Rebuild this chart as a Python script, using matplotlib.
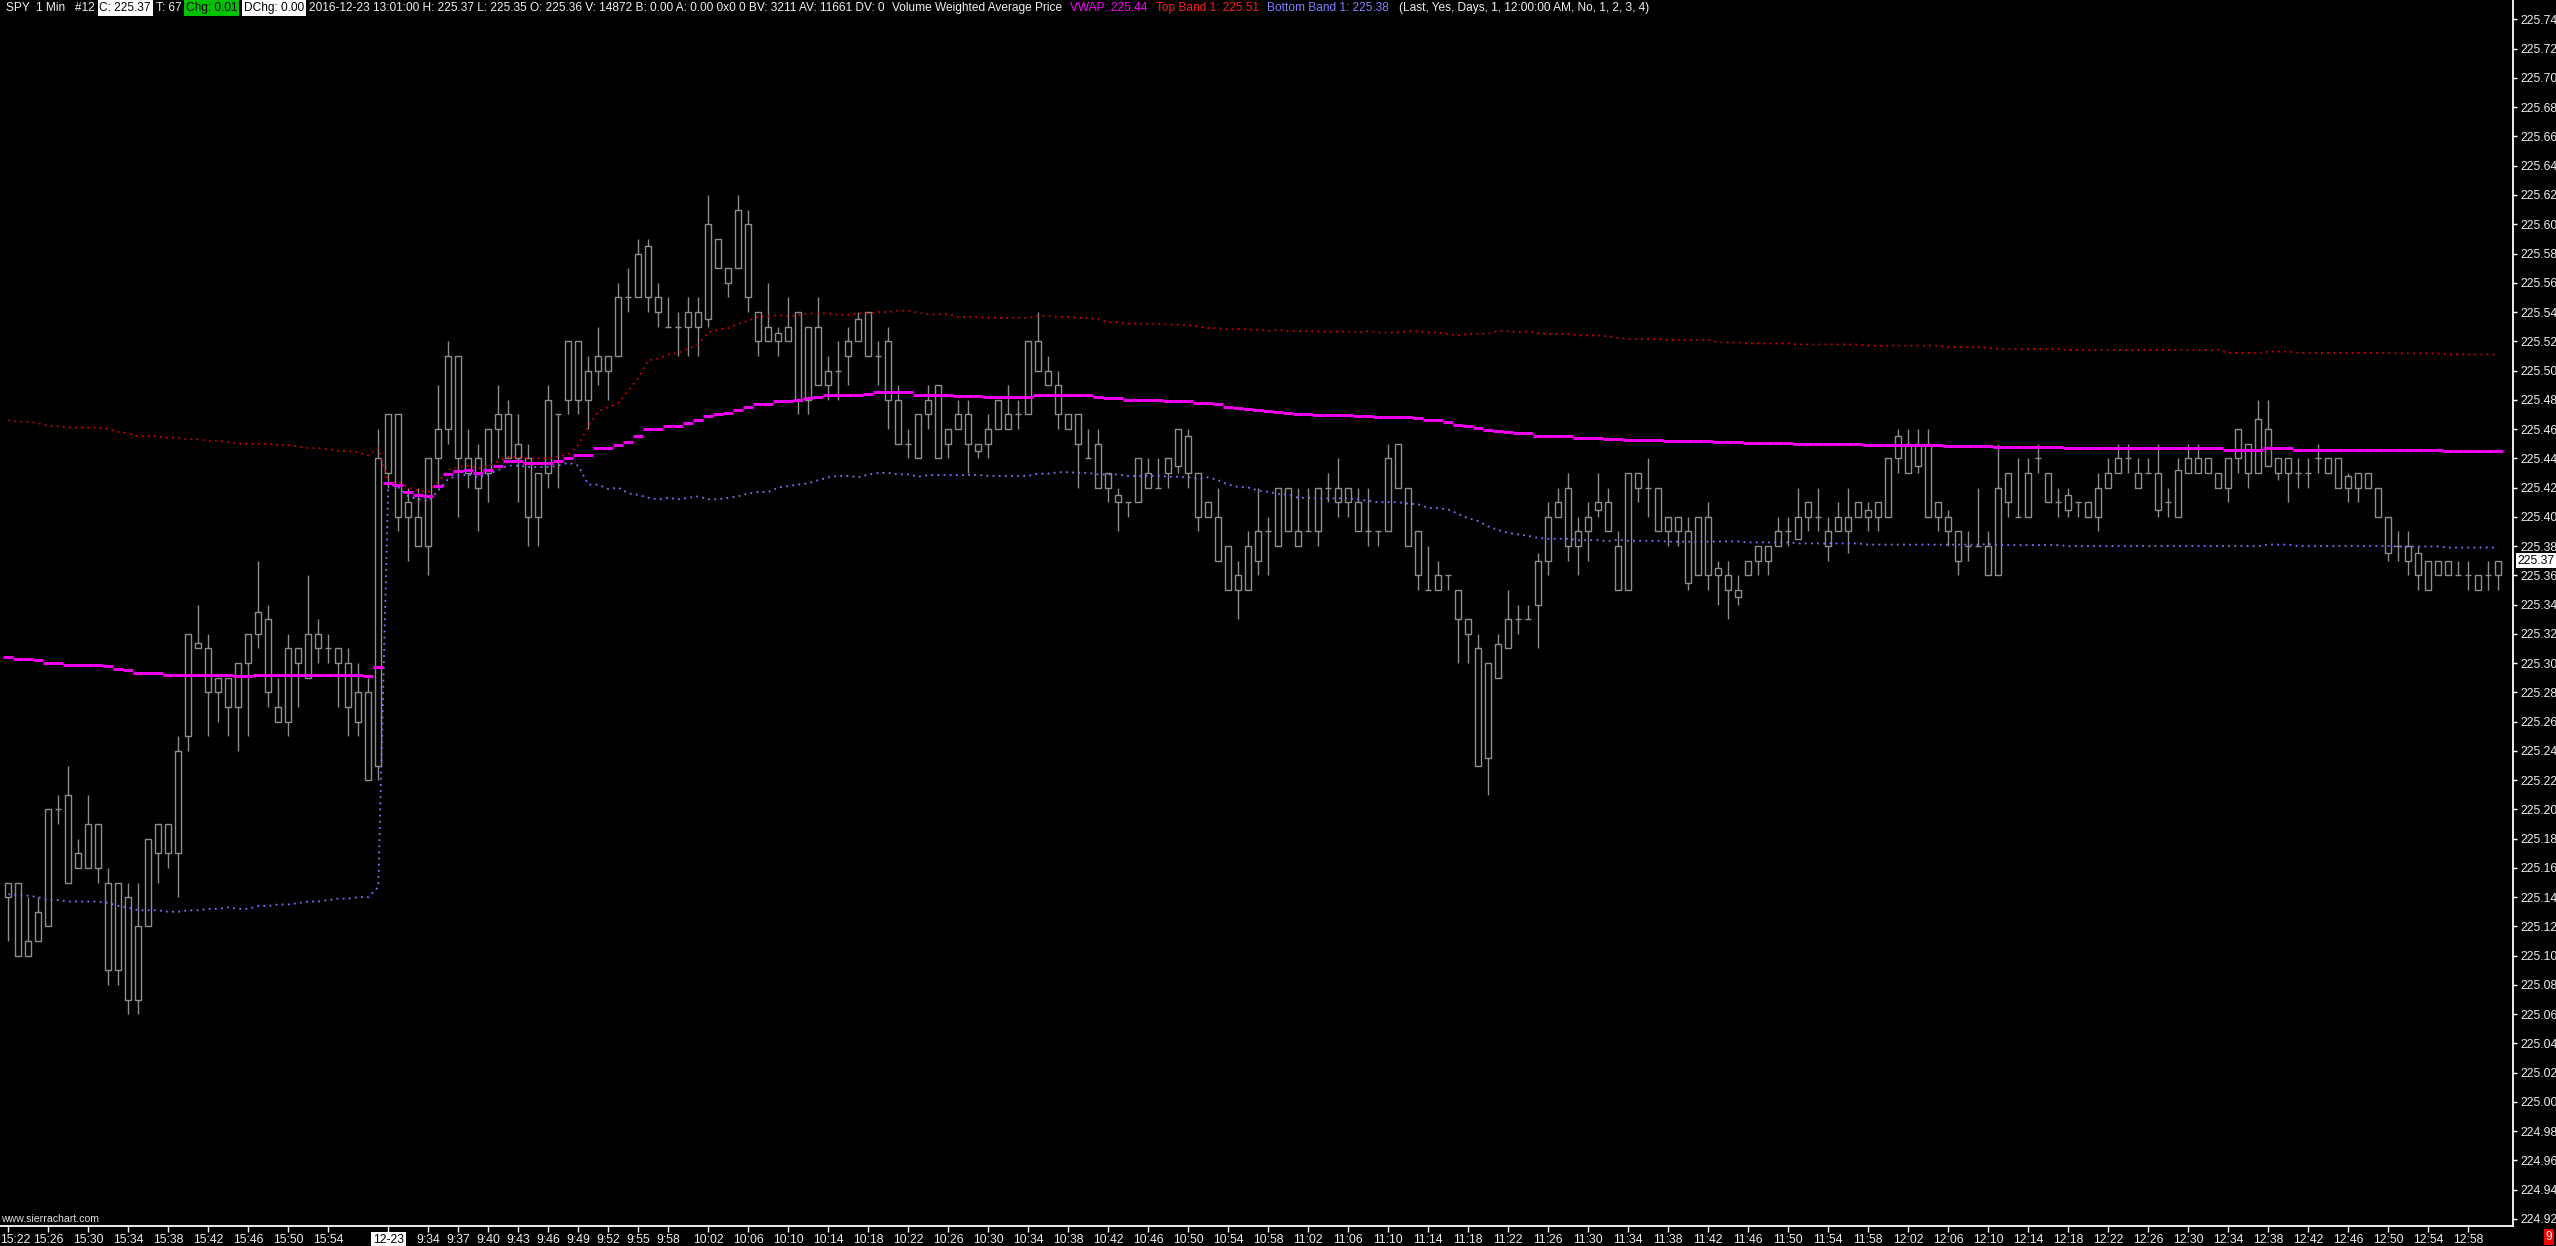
import matplotlib
matplotlib.use('Agg')
import matplotlib.pyplot as plt
import matplotlib.font_manager as fm
import matplotlib.transforms as mtransforms
import numpy as np

# SPY 1 Min. bars 0-37: 2016-12-22 15:22-15:59, bars 38-249: 2016-12-23 9:30-13:01
session_start = 38

opens = [
    225.14, 225.15, 225.10, 225.11, 225.12, 225.20, 225.21, 225.16, 225.16, 225.19,
    225.15, 225.09, 225.14, 225.07, 225.12, 225.17, 225.19, 225.17, 225.25, 225.31,
    225.31, 225.28, 225.29, 225.27, 225.30, 225.32, 225.33, 225.27, 225.26, 225.31,
    225.29, 225.32, 225.31, 225.31, 225.30, 225.28, 225.28, 225.23,
    225.43, 225.47, 225.40, 225.40, 225.38, 225.44, 225.46, 225.51, 225.44, 225.42,
    225.43, 225.46, 225.47, 225.45, 225.44, 225.40, 225.43, 225.47, 225.48, 225.52,
    225.48, 225.50, 225.51, 225.51, 225.55, 225.55, 225.585, 225.55, 225.53, 225.53,
    225.53, 225.54, 225.535, 225.59, 225.57, 225.57, 225.60, 225.54, 225.52, 225.52,
    225.53, 225.54, 225.48, 225.53, 225.49, 225.50, 225.51, 225.52, 225.54, 225.51,
    225.52, 225.48, 225.45, 225.44, 225.47, 225.49, 225.45, 225.46, 225.47, 225.445,
    225.45, 225.46, 225.47, 225.47, 225.47, 225.52, 225.50, 225.49, 225.47, 225.47,
    225.44, 225.45, 225.42, 225.415, 225.41, 225.41, 225.43, 225.42, 225.43, 225.435,
    225.455, 225.43, 225.40, 225.40, 225.38, 225.35, 225.35, 225.37, 225.39, 225.38,
    225.42, 225.39, 225.39, 225.39, 225.42, 225.41, 225.42, 225.41, 225.39, 225.39,
    225.39, 225.45, 225.42, 225.39, 225.35, 225.35, 225.36, 225.35, 225.33, 225.31,
    225.235, 225.29, 225.31, 225.33, 225.33, 225.34, 225.37, 225.40, 225.42, 225.38,
    225.39, 225.405, 225.41, 225.38, 225.35, 225.43, 225.42, 225.42, 225.39, 225.40,
    225.39, 225.36, 225.40, 225.365, 225.36, 225.35, 225.36, 225.37, 225.38, 225.38,
    225.39, 225.385, 225.40, 225.40, 225.39, 225.39, 225.40, 225.40, 225.40, 225.41,
    225.40, 225.44, 225.45, 225.435, 225.45, 225.40, 225.40, 225.39, 225.38, 225.38,
    225.38, 225.36, 225.41, 225.40, 225.40, 225.44, 225.43, 225.41, 225.415, 225.41,
    225.41, 225.40, 225.42, 225.43, 225.44, 225.43, 225.43, 225.43, 225.41, 225.40,
    225.43, 225.44, 225.43, 225.43, 225.42, 225.44, 225.45, 225.43, 225.46, 225.44,
    225.43, 225.43, 225.43, 225.44, 225.44, 225.44, 225.42, 225.43, 225.42, 225.42,
    225.40, 225.38, 225.38, 225.375, 225.37, 225.36, 225.37, 225.36, 225.36, 225.36,
    225.36, 225.36,
]
highs = [
    225.15, 225.15, 225.14, 225.14, 225.20, 225.21, 225.23, 225.18, 225.21, 225.19,
    225.16, 225.15, 225.15, 225.15, 225.18, 225.19, 225.19, 225.25, 225.32, 225.34,
    225.32, 225.29, 225.29, 225.30, 225.32, 225.37, 225.34, 225.29, 225.32, 225.31,
    225.36, 225.33, 225.32, 225.31, 225.31, 225.30, 225.29, 225.46,
    225.47, 225.47, 225.42, 225.42, 225.44, 225.49, 225.52, 225.51, 225.46, 225.45,
    225.46, 225.49, 225.48, 225.47, 225.45, 225.43, 225.49, 225.47, 225.52, 225.52,
    225.51, 225.53, 225.51, 225.56, 225.57, 225.59, 225.59, 225.56, 225.55, 225.54,
    225.55, 225.55, 225.62, 225.59, 225.57, 225.62, 225.61, 225.54, 225.56, 225.53,
    225.55, 225.54, 225.53, 225.55, 225.51, 225.52, 225.53, 225.54, 225.54, 225.52,
    225.53, 225.49, 225.46, 225.47, 225.49, 225.49, 225.46, 225.48, 225.48, 225.45,
    225.47, 225.48, 225.49, 225.48, 225.52, 225.54, 225.51, 225.50, 225.47, 225.47,
    225.46, 225.46, 225.43, 225.42, 225.41, 225.44, 225.44, 225.44, 225.44, 225.46,
    225.46, 225.43, 225.41, 225.42, 225.38, 225.37, 225.39, 225.42, 225.40, 225.42,
    225.42, 225.42, 225.42, 225.42, 225.43, 225.44, 225.42, 225.42, 225.42, 225.39,
    225.45, 225.45, 225.42, 225.39, 225.38, 225.37, 225.36, 225.35, 225.33, 225.32,
    225.30, 225.32, 225.35, 225.34, 225.34, 225.375, 225.41, 225.42, 225.43, 225.40,
    225.41, 225.43, 225.42, 225.39, 225.43, 225.43, 225.44, 225.42, 225.40, 225.40,
    225.40, 225.40, 225.41, 225.37, 225.37, 225.36, 225.37, 225.38, 225.38, 225.40,
    225.40, 225.42, 225.41, 225.42, 225.40, 225.41, 225.42, 225.41, 225.41, 225.41,
    225.44, 225.46, 225.46, 225.46, 225.46, 225.41, 225.405, 225.39, 225.39, 225.42,
    225.39, 225.45, 225.43, 225.44, 225.44, 225.45, 225.43, 225.42, 225.42, 225.41,
    225.41, 225.43, 225.44, 225.45, 225.45, 225.44, 225.44, 225.45, 225.42, 225.44,
    225.45, 225.45, 225.44, 225.43, 225.44, 225.46, 225.45, 225.48, 225.48, 225.44,
    225.44, 225.44, 225.44, 225.45, 225.44, 225.44, 225.43, 225.43, 225.43, 225.42,
    225.40, 225.39, 225.39, 225.38, 225.37, 225.37, 225.37, 225.37, 225.37, 225.36,
    225.37, 225.37,
]
lows = [
    225.11, 225.10, 225.10, 225.11, 225.12, 225.19, 225.15, 225.16, 225.16, 225.15,
    225.08, 225.08, 225.06, 225.06, 225.12, 225.15, 225.16, 225.14, 225.24, 225.31,
    225.25, 225.26, 225.25, 225.24, 225.25, 225.31, 225.27, 225.26, 225.25, 225.27,
    225.29, 225.30, 225.30, 225.27, 225.25, 225.25, 225.22, 225.22,
    225.42, 225.39, 225.37, 225.38, 225.36, 225.42, 225.45, 225.40, 225.42, 225.39,
    225.41, 225.44, 225.44, 225.41, 225.38, 225.38, 225.42, 225.42, 225.47, 225.47,
    225.46, 225.49, 225.48, 225.51, 225.54, 225.55, 225.54, 225.53, 225.53, 225.51,
    225.51, 225.51, 225.53, 225.57, 225.55, 225.57, 225.54, 225.51, 225.52, 225.51,
    225.52, 225.47, 225.47, 225.49, 225.48, 225.48, 225.49, 225.52, 225.51, 225.49,
    225.46, 225.45, 225.44, 225.44, 225.46, 225.44, 225.44, 225.46, 225.43, 225.44,
    225.44, 225.46, 225.46, 225.46, 225.47, 225.50, 225.49, 225.46, 225.46, 225.42,
    225.44, 225.42, 225.41, 225.39, 225.40, 225.41, 225.42, 225.42, 225.42, 225.43,
    225.42, 225.39, 225.40, 225.37, 225.35, 225.33, 225.35, 225.36, 225.36, 225.38,
    225.39, 225.38, 225.39, 225.38, 225.41, 225.40, 225.40, 225.39, 225.38, 225.38,
    225.39, 225.42, 225.38, 225.35, 225.35, 225.35, 225.35, 225.30, 225.30, 225.23,
    225.21, 225.29, 225.31, 225.32, 225.33, 225.31, 225.36, 225.40, 225.37, 225.36,
    225.37, 225.40, 225.39, 225.35, 225.35, 225.41, 225.40, 225.39, 225.38, 225.38,
    225.35, 225.36, 225.35, 225.34, 225.33, 225.34, 225.36, 225.36, 225.36, 225.38,
    225.38, 225.385, 225.39, 225.39, 225.37, 225.39, 225.375, 225.40, 225.39, 225.39,
    225.40, 225.43, 225.43, 225.43, 225.40, 225.39, 225.38, 225.36, 225.37, 225.38,
    225.36, 225.36, 225.40, 225.40, 225.40, 225.43, 225.41, 225.40, 225.40, 225.40,
    225.40, 225.39, 225.42, 225.43, 225.43, 225.42, 225.43, 225.40, 225.40, 225.40,
    225.43, 225.43, 225.43, 225.42, 225.41, 225.43, 225.42, 225.43, 225.435, 225.425,
    225.41, 225.42, 225.42, 225.43, 225.43, 225.42, 225.41, 225.41, 225.42, 225.40,
    225.37, 225.37, 225.36, 225.35, 225.35, 225.36, 225.36, 225.36, 225.35, 225.35,
    225.35, 225.35,
]
closes = [
    225.15, 225.10, 225.11, 225.13, 225.20, 225.20, 225.15, 225.17, 225.19, 225.16,
    225.09, 225.15, 225.07, 225.12, 225.18, 225.19, 225.17, 225.24, 225.32, 225.314,
    225.28, 225.29, 225.27, 225.30, 225.32, 225.335, 225.28, 225.26, 225.31, 225.30,
    225.32, 225.31, 225.31, 225.30, 225.27, 225.26, 225.22, 225.44,
    225.47, 225.40, 225.41, 225.38, 225.44, 225.46, 225.51, 225.44, 225.43, 225.44,
    225.46, 225.47, 225.44, 225.44, 225.40, 225.43, 225.48, 225.47, 225.52, 225.48,
    225.50, 225.51, 225.50, 225.55, 225.55, 225.58, 225.55, 225.54, 225.53, 225.53,
    225.54, 225.53, 225.60, 225.57, 225.56, 225.61, 225.55, 225.52, 225.53, 225.526,
    225.52, 225.48, 225.53, 225.49, 225.50, 225.50, 225.52, 225.535, 225.51, 225.51,
    225.48, 225.45, 225.45, 225.47, 225.48, 225.44, 225.46, 225.47, 225.45, 225.45,
    225.46, 225.48, 225.46, 225.47, 225.52, 225.50, 225.49, 225.47, 225.46, 225.45,
    225.44, 225.42, 225.43, 225.41, 225.41, 225.44, 225.42, 225.42, 225.44, 225.46,
    225.43, 225.40, 225.41, 225.37, 225.35, 225.36, 225.38, 225.39, 225.39, 225.42,
    225.39, 225.38, 225.39, 225.42, 225.42, 225.42, 225.41, 225.39, 225.39, 225.39,
    225.44, 225.42, 225.38, 225.36, 225.35, 225.36, 225.36, 225.33, 225.32, 225.23,
    225.30, 225.313, 225.33, 225.33, 225.33, 225.37, 225.40, 225.41, 225.38, 225.39,
    225.40, 225.41, 225.39, 225.35, 225.43, 225.42, 225.42, 225.39, 225.40, 225.39,
    225.355, 225.40, 225.36, 225.36, 225.35, 225.345, 225.37, 225.38, 225.37, 225.39,
    225.39, 225.40, 225.41, 225.40, 225.38, 225.40, 225.39, 225.41, 225.405, 225.40,
    225.44, 225.455, 225.43, 225.45, 225.40, 225.41, 225.39, 225.37, 225.38, 225.38,
    225.36, 225.42, 225.43, 225.40, 225.43, 225.44, 225.41, 225.41, 225.405, 225.41,
    225.40, 225.42, 225.43, 225.44, 225.44, 225.42, 225.43, 225.405, 225.41, 225.432,
    225.44, 225.43, 225.44, 225.42, 225.44, 225.46, 225.43, 225.467, 225.435, 225.43,
    225.44, 225.43, 225.43, 225.44, 225.43, 225.42, 225.428, 225.42, 225.43, 225.40,
    225.375, 225.38, 225.37, 225.36, 225.35, 225.37, 225.36, 225.36, 225.36, 225.35,
    225.36, 225.37,
]

# volume weighted average price (resets each day) and band distance (band 1)
vwap = [
    225.304, 225.303, 225.303, 225.302, 225.300, 225.300, 225.299, 225.299, 225.299, 225.299,
    225.298, 225.296, 225.295, 225.293, 225.293, 225.293, 225.292, 225.292, 225.292, 225.292,
    225.292, 225.292, 225.292, 225.291, 225.291, 225.292, 225.292, 225.292, 225.292, 225.292,
    225.292, 225.292, 225.292, 225.292, 225.292, 225.292, 225.291, 225.297,
    225.423, 225.422, 225.417, 225.415, 225.414, 225.421, 225.429, 225.431, 225.432, 225.430,
    225.432, 225.435, 225.438, 225.438, 225.437, 225.437, 225.437, 225.438, 225.440, 225.442,
    225.442, 225.447, 225.447, 225.449, 225.451, 225.455, 225.460, 225.460, 225.462, 225.462,
    225.464, 225.466, 225.469, 225.470, 225.471, 225.473, 225.475, 225.477, 225.477, 225.479,
    225.479, 225.480, 225.481, 225.482, 225.483, 225.483, 225.483, 225.483, 225.484, 225.485,
    225.485, 225.485, 225.485, 225.4835, 225.4835, 225.4835, 225.4835, 225.4826, 225.4826, 225.4826,
    225.482, 225.482, 225.482, 225.482, 225.482, 225.4835, 225.4835, 225.4835, 225.4835, 225.483,
    225.483, 225.482, 225.481, 225.481, 225.480, 225.480, 225.480, 225.480, 225.4794, 225.4794,
    225.479, 225.478, 225.478, 225.477, 225.475, 225.4744, 225.474, 225.473, 225.472, 225.4717,
    225.471, 225.470, 225.470, 225.4696, 225.4696, 225.4696, 225.4696, 225.469, 225.469, 225.468,
    225.468, 225.468, 225.468, 225.4676, 225.466, 225.466, 225.465, 225.463, 225.462, 225.461,
    225.4594, 225.459, 225.458, 225.457, 225.457, 225.4555, 225.455, 225.455, 225.455, 225.454,
    225.454, 225.454, 225.4533, 225.4533, 225.4526, 225.4526, 225.4526, 225.4526, 225.452, 225.452,
    225.452, 225.452, 225.452, 225.4512, 225.4512, 225.4512, 225.4505, 225.4505, 225.4505, 225.4505,
    225.4505, 225.4498, 225.4498, 225.4498, 225.4498, 225.4498, 225.4498, 225.4498, 225.449, 225.449,
    225.449, 225.449, 225.449, 225.449, 225.449, 225.449, 225.4485, 225.4485, 225.4485, 225.4485,
    225.4484, 225.4477, 225.4477, 225.4477, 225.4477, 225.4477, 225.4477, 225.4477, 225.447, 225.447,
    225.447, 225.447, 225.447, 225.447, 225.447, 225.447, 225.447, 225.447, 225.447, 225.447,
    225.447, 225.447, 225.447, 225.447, 225.446, 225.446, 225.446, 225.446, 225.447, 225.447,
    225.447, 225.446, 225.446, 225.446, 225.446, 225.446, 225.446, 225.446, 225.446, 225.446,
    225.446, 225.4457, 225.4457, 225.4457, 225.4457, 225.4457, 225.445, 225.445, 225.445, 225.445,
    225.445, 225.445,
]
band_dev = (
    [0.162] * 18 + [0.161, 0.161]
    + [0.160, 0.160, 0.159, 0.159, 0.159, 0.158, 0.158, 0.157, 0.157, 0.156]
    + [0.155, 0.155, 0.154, 0.153, 0.153, 0.152, 0.151, 0.150]
    + [0.000, 0.002] + [0.003] * 17 + [0.007]
    + [0.020, 0.025, 0.028, 0.029, 0.035, 0.040, 0.047, 0.048, 0.049, 0.050]
    + [0.051, 0.052, 0.057, 0.058, 0.058, 0.059, 0.059, 0.060, 0.060, 0.059]
    + [0.058, 0.058, 0.058, 0.057, 0.056, 0.055, 0.055, 0.056, 0.055, 0.055]
    + [0.055, 0.056, 0.056, 0.056, 0.055, 0.055, 0.055, 0.054, 0.054, 0.054]
    + [0.054] * 7 + [0.053] * 5 + [0.052] * 10
    + [0.051, 0.052, 0.053, 0.054, 0.054, 0.055, 0.055, 0.056]
    + [0.056] + [0.057] * 7 + [0.058] * 4
    + [0.059, 0.059, 0.060, 0.060, 0.060, 0.061, 0.063, 0.064]
    + [0.066, 0.068, 0.069, 0.069] + [0.070] * 9 + [0.069] * 10
    + [0.068] * 23 + [0.0675] * 4 + [0.067] * 24 + [0.066] * 28
)

xtick_pos = [0, 4, 8, 12, 16, 20, 24, 28, 32, 38, 42, 45, 48, 51, 54, 57, 60, 63, 66] + \
    list(range(70, 247, 4))
xtick_labels = ['15:22', '15:26', '15:30', '15:34', '15:38', '15:42', '15:46', '15:50', '15:54',
                '12-23', '9:34', '9:37', '9:40', '9:43', '9:46', '9:49', '9:52', '9:55', '9:58',
                '10:02', '10:06', '10:10', '10:14', '10:18', '10:22', '10:26', '10:30', '10:34',
                '10:38', '10:42', '10:46', '10:50', '10:54', '10:58', '11:02', '11:06', '11:10',
                '11:14', '11:18', '11:22', '11:26', '11:30', '11:34', '11:38', '11:42', '11:46',
                '11:50', '11:54', '11:58', '12:02', '12:06', '12:10', '12:14', '12:18', '12:22',
                '12:26', '12:30', '12:34', '12:38', '12:42', '12:46', '12:50', '12:54', '12:58']
last_price = 225.37

# font: narrow face if it is there
names = {f.name for f in fm.fontManager.ttflist}
if 'Liberation Sans Narrow' in names:
    face, lab_size, head_size = 'Liberation Sans Narrow', 10.8, 10.5
else:
    face, lab_size, head_size = 'Liberation Sans', 8.8, 8.6
plt.rcParams['font.family'] = [face, 'DejaVu Sans']

W, H = 2556, 1246
fig = plt.figure(figsize=(W / 100, H / 100), dpi=100, facecolor='black')
ax = fig.add_axes([0, 20 / H, 2513 / W, 1226 / H])
ax.set_facecolor('black')

gray = '#8e8e8e'
x = np.arange(len(opens))
o = np.array(opens); c = np.array(closes)
lo = np.minimum(o, c); hi = np.maximum(o, c)

ax.vlines(x, lows, highs, color=gray, lw=1.0, zorder=2)
ax.bar(x, hi - lo, bottom=lo, width=0.62, facecolor='black', edgecolor=gray,
       linewidth=1.0, zorder=3)

vw = np.array(vwap); dev = np.array(band_dev)
top = vw + dev
bot = vw - dev
ax.plot(x, top, color='#d00000', lw=1.3, ls=(0, (1, 2.4)), zorder=4)
ax.plot(x, bot, color='#7878ff', lw=1.3, ls=(0, (1, 2.4)), zorder=4)
for s, e in [(0, session_start), (session_start, len(x))]:
    ax.hlines(vw[s:e], x[s:e] - 0.5, x[s:e] + 0.5, color='#ee00ee', lw=2.2, zorder=5)

ax.set_xlim(-0.83, 250.47)
ax.set_ylim(224.9152, 225.7533)

for side in ['top', 'left']:
    ax.spines[side].set_visible(False)
for side in ['right', 'bottom']:
    ax.spines[side].set_color('white')
    ax.spines[side].set_linewidth(1.3)

yt = np.round(np.arange(224.92, 225.745, 0.02), 2)
ax.yaxis.tick_right()
ax.set_yticks(yt, [f'{v:.2f}' for v in yt])
ax.set_xticks(xtick_pos, xtick_labels)
ax.tick_params(axis='y', colors='white', labelcolor='#eeeeee', length=3, width=1,
               pad=2, labelsize=lab_size)
ax.tick_params(axis='x', colors='white', labelcolor='#eeeeee', length=4, width=1,
               pad=2, labelsize=lab_size)
for lbl in ax.get_xticklabels():
    if lbl.get_text() == '12-23':
        lbl.set_color('black')
        lbl.set_bbox(dict(facecolor='white', edgecolor='none', pad=1.5))
    if lbl.get_text() == '15:22':
        # first label starts at the left edge of the picture
        lbl.set_horizontalalignment('left')
        lbl.set_transform(lbl.get_transform() +
                          mtransforms.ScaledTranslation(-8 / 100, 0, fig.dpi_scale_trans))

# current price marker on the price scale
trans = mtransforms.blended_transform_factory(ax.transAxes, ax.transData)
ax.text(1.0018, last_price, f'{last_price:.2f}', transform=trans, ha='left', va='center',
        color='black', fontsize=lab_size, zorder=10, clip_on=False,
        bbox=dict(facecolor='white', edgecolor='none', pad=1.0))

# header line, each piece placed at its spot or right after the previous one
renderer = fig.canvas.get_renderer()
hy = 1 - 8 / H
last_end = [0.0]
def head(px, s, color='#f0f0f0', box=None, gap=3):
    kw = {}
    pad_px = 0
    if box:
        kw['bbox'] = dict(facecolor=box, edgecolor='none', pad=1.2)
        pad_px = 1.7
    xs = max(px, last_end[0] + gap + pad_px)
    t = fig.text(xs / W, hy, s, color=color, fontsize=head_size, ha='left', va='center', **kw)
    last_end[0] = t.get_window_extent(renderer).x1 + pad_px

head(6, 'SPY  1 Min   #12')
head(93, 'C: 225.37', 'black', 'white')
head(142, 'T: 67')
head(171, 'Chg: 0.01', 'black', '#00c000')
head(223, 'DChg: 0.00', 'black', 'white')
head(284, '2016-12-23 13:01:00 H: 225.37 L: 225.35 O: 225.36 V: 14872 B: 0.00 A: 0.00 '
          '0x0 0 BV: 3211 AV: 11661 DV: 0')
head(823, 'Volume Weighted Average Price', gap=8)
head(999, 'VWAP: 225.44', '#ff00ff', gap=8)
head(1078, 'Top Band 1: 225.51', '#ff1a1a', gap=8)
head(1182, 'Bottom Band 1: 225.38', '#8080ff', gap=8)
head(1309, '(Last, Yes, Days, 1, 12:00:00 AM, No, 1, 2, 3, 4)', gap=10)

fig.text(1 / W, 1 - 1219 / H, 'www.sierrachart.com', color='#e0e0e0',
         fontsize=head_size - 1, ha='left', va='center')
fig.text(2549 / W, 1 - 1237 / H, '9', color='white', fontsize=head_size, ha='center',
         va='center', bbox=dict(facecolor='#ff0000', edgecolor='none', pad=1.5))

fig.savefig('out.png', dpi=100, facecolor='black')
